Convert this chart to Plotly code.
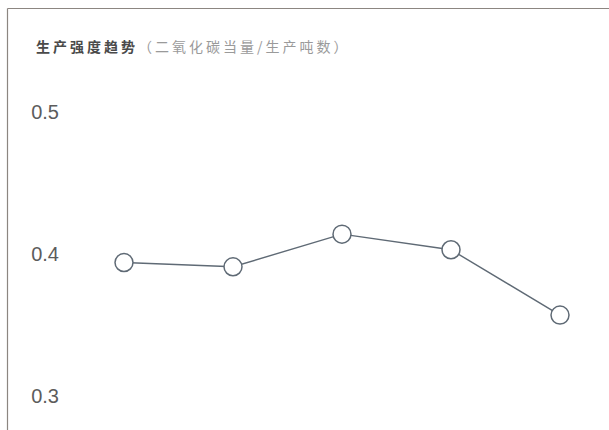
import plotly.graph_objects as go

# Production intensity per period (CO2e per tonne produced)
periods = [0, 1, 2, 3, 4]
intensity = [0.394, 0.391, 0.414, 0.403, 0.357]
y_ticks = [0.3, 0.4, 0.5]
y_tick_labels = ["0.3", "0.4", "0.5"]

W, H = 609, 430
ML, MR, MT, MB = 64, 0, 80, 0
PW, PH = W - ML - MR, H - MT - MB

BORDER = "#8c8681"
LINE = "#5f6a75"

fig = go.Figure(
    go.Scatter(
        x=periods,
        y=intensity,
        mode="lines+markers",
        line=dict(color=LINE, width=1.4),
        marker=dict(size=18, color="white", line=dict(color=LINE, width=1.5)),
        hoverinfo="skip",
    )
)


def px_to_paper_x(px):
    return (px - ML) / PW


def px_to_paper_y(py):
    return (H - MB - py) / PH


title_text = (
    '<span style="letter-spacing:3px"><b>生产强度趋势</b></span>'
    '<span style="letter-spacing:3px;fill:#9a9a9a">（二氧化碳当量/生产吨数）</span>'
)

fig.update_layout(
    width=W,
    height=H,
    margin=dict(l=ML, r=MR, t=MT, b=MB, pad=0),
    paper_bgcolor="white",
    plot_bgcolor="white",
    showlegend=False,
    title=dict(
        text=title_text,
        xref="container",
        yref="container",
        x=36 / W,
        y=1 - 47 / H,
        xanchor="left",
        yanchor="middle",
        font=dict(family="Noto Sans CJK SC", size=14, color="#4a4a4a"),
    ),
    xaxis=dict(
        range=[-0.5505, 4.4495],
        showgrid=False,
        zeroline=False,
        showline=False,
        showticklabels=False,
        ticks="",
        fixedrange=True,
    ),
    yaxis=dict(
        range=[0.27606, 0.52254],
        tickvals=y_ticks,
        ticktext=y_tick_labels,
        showgrid=False,
        zeroline=False,
        showline=False,
        ticks="",
        ticklabelstandoff=4,
        tickfont=dict(family="Liberation Sans, Arial", size=20, color="#5c5c5c"),
        fixedrange=True,
    ),
    shapes=[
        dict(
            type="line", xref="paper", yref="paper",
            x0=px_to_paper_x(7.5), x1=1.0,
            y0=px_to_paper_y(8.5), y1=px_to_paper_y(8.5),
            line=dict(color=BORDER, width=1.2),
        ),
        dict(
            type="line", xref="paper", yref="paper",
            x0=px_to_paper_x(7.5), x1=px_to_paper_x(7.5),
            y0=px_to_paper_y(8.5), y1=0.0,
            line=dict(color=BORDER, width=1.2),
        ),
    ],
)

fig.write_html("out.html")
